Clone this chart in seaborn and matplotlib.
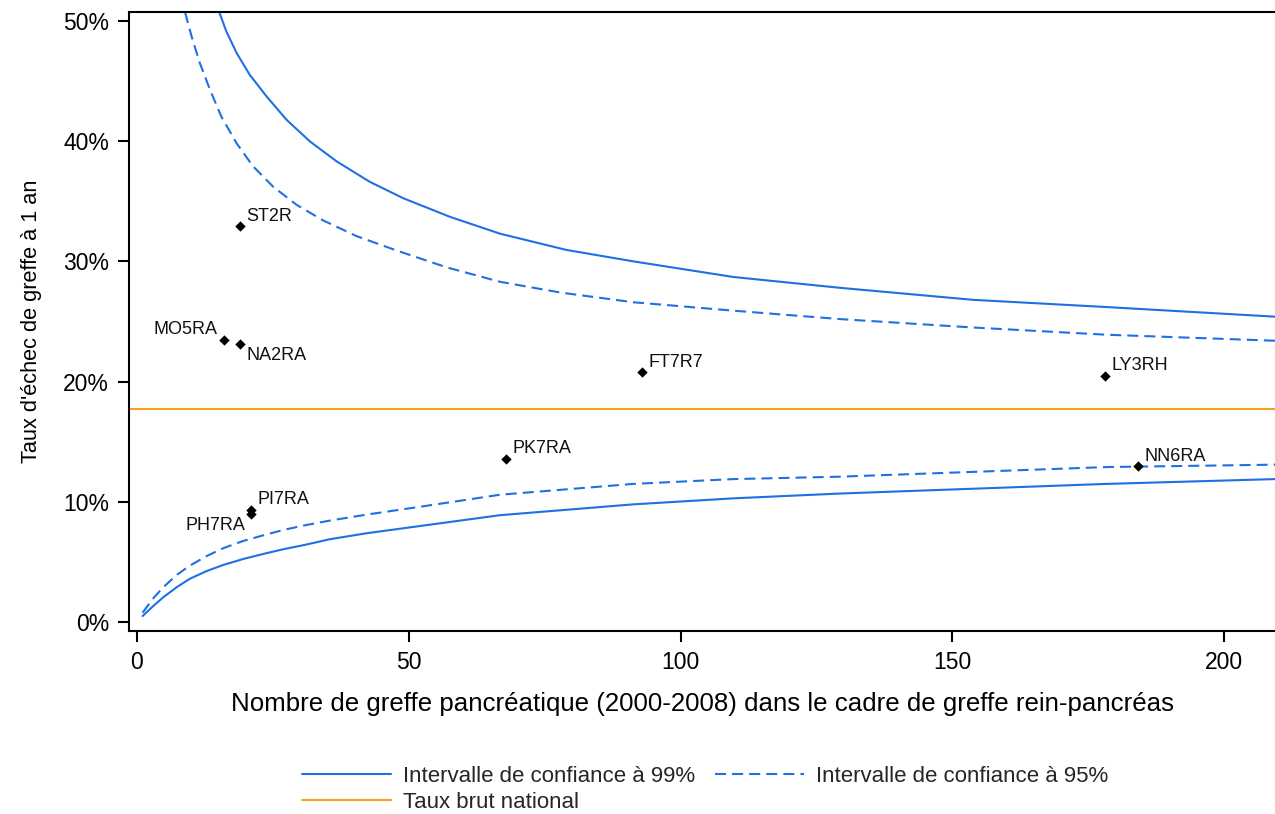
import matplotlib
matplotlib.use("Agg")
import matplotlib.pyplot as plt
import seaborn as sns
import pandas as pd
from matplotlib.lines import Line2D
from matplotlib.ticker import FuncFormatter

# ---------------- data ----------------
centres = ["ST2R", "MO5RA", "NA2RA", "PI7RA", "PH7RA", "PK7RA", "FT7R7", "LY3RH", "NN6RA"]
nb_greffes = [19.0, 16.1, 19.0, 21.1, 21.1, 68.0, 93.0, 178.1, 184.1]
taux_echec = [32.9, 23.5, 23.1, 9.3, 9.0, 13.6, 20.8, 20.5, 13.0]

taux_national = 17.7

# upper limits
x_up99 = [15.2, 16.5, 18.4, 20.8, 23.9, 27.6, 31.9, 36.8, 42.9, 49.0, 57.6, 66.8, 79.0,
          91.3, 109.7, 129.3, 153.8, 178.3, 209.3]
y_up99 = [50.7, 49.1, 47.3, 45.5, 43.7, 41.75, 39.95, 38.3, 36.6, 35.25, 33.7, 32.3, 30.95,
          30.0, 28.7, 27.8, 26.8, 26.2, 25.4]
x_up95 = [8.9, 10.1, 11.6, 13.5, 15.6, 18.4, 21.4, 25.1, 29.4, 34.3, 40.4, 47.8, 57.0,
          66.8, 78.0, 91.3, 109.7, 129.3, 153.8, 178.3, 209.3]
y_up95 = [50.7, 48.7, 46.5, 44.25, 42.0, 39.8, 37.9, 36.2, 34.7, 33.4, 32.1, 30.9, 29.5,
          28.3, 27.4, 26.6, 25.9, 25.2, 24.5, 23.9, 23.4]
# lower limits
x_low = [1.1, 3.05, 4.9, 7.35, 9.8, 12.9, 15.9, 19.6, 23.3, 26.95, 30.6, 35.5, 42.3,
         52.1, 66.8, 91.3, 109.7, 129.3, 153.8, 178.3, 209.3]
y_low99 = [0.52, 1.35, 2.08, 2.91, 3.62, 4.26, 4.76, 5.26, 5.68, 6.07, 6.4, 6.9, 7.4,
           8.0, 8.9, 9.8, 10.3, 10.7, 11.1, 11.5, 11.9]
y_low95 = [0.8, 1.99, 2.91, 3.93, 4.71, 5.51, 6.15, 6.76, 7.23, 7.67, 8.03, 8.45, 8.95,
           9.6, 10.6, 11.5, 11.9, 12.1, 12.5, 12.9, 13.1]

x_ticks = [0, 50, 100, 150, 200]
y_ticks = [0, 10, 20, 30, 40, 50]

label_99 = "Intervalle de confiance à 99%"
label_95 = "Intervalle de confiance à 95%"
label_nat = "Taux brut national"
xlabel = "Nombre de greffe pancréatique (2000-2008) dans le cadre de greffe rein-pancréas"
ylabel = "Taux d'échec de greffe à 1 an"

# label placement (offset in points, alignment)
label_pos = {
    "ST2R": (4.5, 7, "left"),
    "MO5RA": (-5, 7.5, "right"),
    "NA2RA": (4.5, -8, "left"),
    "PI7RA": (4.5, 7.5, "left"),
    "PH7RA": (-4.5, -8, "right"),
    "PK7RA": (4.5, 7, "left"),
    "FT7R7": (4.5, 7, "left"),
    "LY3RH": (4.5, 7, "left"),
    "NN6RA": (4.5, 7, "left"),
}

# ---------------- style ----------------
sns.set_theme(style="white")
plt.rcParams["font.family"] = ["Liberation Sans", "DejaVu Sans"]

BLUE = "#1F6FE5"
ORANGE = "#F5A31A"
LW = 1.5
DASH = (5.3, 2.9)

fig = plt.figure(figsize=(12.75, 8.14), dpi=100)
ax = fig.add_axes([0.1012, 0.2252, 0.8988, 0.7597])

sns.lineplot(x=x_up99, y=y_up99, ax=ax, color=BLUE, lw=LW, sort=False, estimator=None)
sns.lineplot(x=x_low, y=y_low99, ax=ax, color=BLUE, lw=LW, sort=False, estimator=None)
sns.lineplot(x=x_up95, y=y_up95, ax=ax, color=BLUE, lw=LW, sort=False, estimator=None)
sns.lineplot(x=x_low, y=y_low95, ax=ax, color=BLUE, lw=LW, sort=False, estimator=None)
for ln in ax.lines[:4]:
    ln.set_solid_joinstyle("round")
    ln.set_dash_joinstyle("round")
for ln in ax.lines[2:4]:
    ln.set_linestyle((0, DASH))

ax.axhline(taux_national, color=ORANGE, lw=LW, zorder=1)

df = pd.DataFrame({"centre": centres, "n": nb_greffes, "taux": taux_echec})
sns.scatterplot(data=df, x="n", y="taux", ax=ax, marker="D", s=28, color="black",
                linewidth=0, zorder=5)
for c, xv, yv in zip(centres, nb_greffes, taux_echec):
    dx, dy, ha = label_pos[c]
    ax.annotate(c, (xv, yv), xytext=(dx, dy), textcoords="offset points",
                ha=ha, va="center", fontsize=13, color="#111111")

ax.set_xlim(-1.4, 209.3)
ax.set_ylim(-0.7, 50.7)
ax.set_xticks(x_ticks)
ax.set_yticks(y_ticks)
ax.yaxis.set_major_formatter(FuncFormatter(lambda v, p: f"{v:.0f}%"))
ax.tick_params(axis="both", direction="out", length=8, width=1.5, labelsize=16.5,
               pad=6.5, color="black", labelcolor="black", left=True, bottom=True)
for side in ["left", "bottom", "top"]:
    ax.spines[side].set_visible(True)
    ax.spines[side].set_color("black")
    ax.spines[side].set_linewidth(1.5)
ax.spines["right"].set_visible(False)

ax.set_xlabel(xlabel, fontsize=18.6, labelpad=13, color="black")
ax.set_ylabel(ylabel, fontsize=15.7, labelpad=15, color="black")

h99 = Line2D([], [], color=BLUE, lw=LW)
h95 = Line2D([], [], color=BLUE, lw=LW, linestyle=(0, DASH))
hnat = Line2D([], [], color=ORANGE, lw=LW)
fig.legend([h99, hnat, h95], [label_99, label_nat, label_95], ncol=2,
           loc="center left", bbox_to_anchor=(301.7 / 1275, 1 - 789.7 / 814),
           frameon=False, fontsize=16, handlelength=4.0, handletextpad=0.54,
           columnspacing=0.93, labelspacing=0.23, borderpad=0, borderaxespad=0)

fig.savefig("out.png", dpi=100)
